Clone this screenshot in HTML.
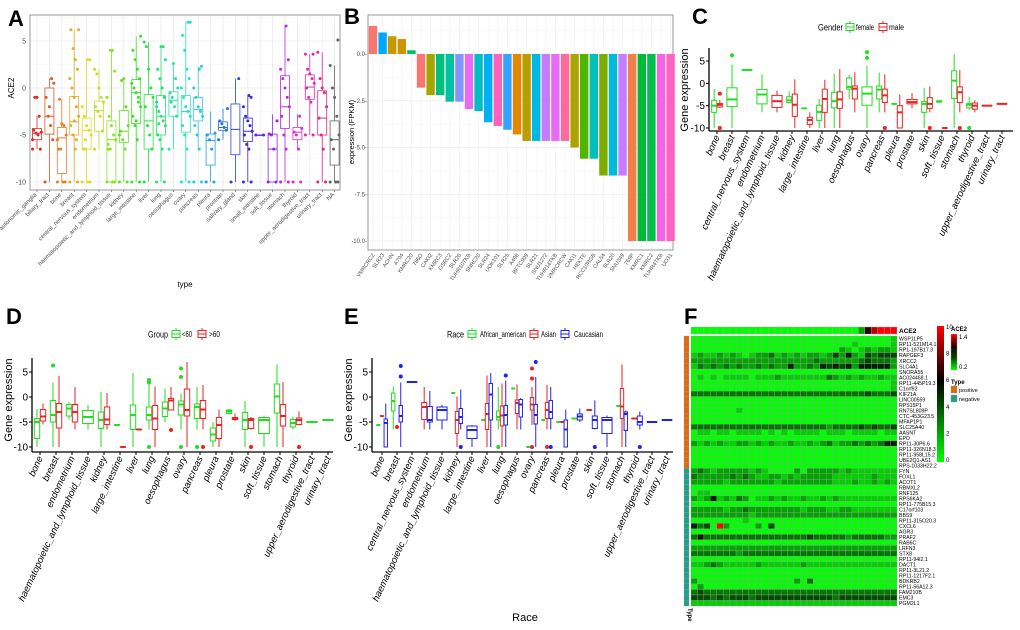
<!DOCTYPE html>
<html><head><meta charset="utf-8"><style>
body{margin:0;background:#fff}
svg{display:block;font-family:"Liberation Sans",sans-serif}
</style></head><body>
<svg id="fig" width="1020" height="630" viewBox="0 0 1020 630"></svg>
<script>
// ---------- DATA ----------
const aCats=["autonomic_ganglia","biliary_tract","bone","breast","central_nervous_system","endometrium","haematopoietic_and_lymphoid_tissue","kidney","large_intestine","liver","lung","oesophagus","ovary","pancreas","pleura","prostate","salivary_gland","skin","small_intestine","soft_tissue","stomach","thyroid","upper_aerodigestive_tract","urinary_tract","NA"];
const aStats=[[-6.5,-5.5,-4.8,-4.3,-3],[-10,-4.9,-3,0,1],[-10,-9.1,-5.3,-4.2,-1.2],[-10,-5,-3.6,-0.9,6.2],[-10,-6.5,-4.5,-3.2,3],[-6.5,-4.6,-2.4,-1.4,2],[-10,-10,-5.5,-3.5,4],[-10,-5.8,-4.6,-2.4,1],[-10,-3.8,-0.5,0.9,5.5],[-10,-6.5,-3.5,-0.7,4.9],[-10,-5,-3,-0.8,4.4],[-6.5,-3,-1.3,-0.4,2.6],[-10,-4.7,-2.5,-0.8,7],[-6.5,-3.5,-2.3,-1,2.3],[-10,-8.2,-5.6,-4.9,-2.5],[-5.5,-4.5,-4.2,-3.6,-2.2],[-10,-7.1,-4.4,-1.7,1],[-10,-5.7,-4.6,-3.2,-0.8],[-5,-5,-5,-5,-5],[-10,-10,-6.5,-4.9,-2.8],[-10,-4.3,-2,1.3,6.6],[-6.5,-5.5,-4.7,-4.2,-2.8],[-5,-1.2,0.1,1.4,3.6],[-10,-5,-3.2,-0.3,3.8],[-10,-8.2,-5.5,-3.5,2.4]];
const aPoints=[[-6.5,-6.5,-5,-4.8,-4.5,-4.7,-3,-1,-1,-5.5],[-10,-5.5,-4,-3,-1,0.5,1,-2],[-10,-10,-10,-6.5,-6.5,-5,-4,-3.8,-1.2,-5.5],[-10,-10,-6.5,-5,-4,-3,-2,-1,0,1,2,3,4.2,6.2,6.2,-5.5,-3.5],[-10,-10,-10,-6.5,-6.5,-5,-4.5,-4,-3,-2,3,3,-5.5],[-6.5,-4.6,-3,-2.5,-2,-1.5,-1,0,1.5,2],[-10,-10,-10,-6.5,-6.5,-5.5,-5,-4,-3,-1,1.8,4,4,-6],[-10,-10,-6.5,-5.5,-4.6,-4,-2,1,0.8,-5],[-10,-10,-5.5,-4,-3,-2,-1,-0.5,0,0.5,1,2,3,4,5.5,-1.5,-3.5],[-10,-6.5,-5,-4,-2,-1,0,2,4.4,4.9],[-10,-10,-6.5,-5.5,-5,-4,-3.5,-3,-2.5,-2,-1,0,1,2,3,4.4,4.4,-3.8,-1.5],[-6.5,-3,-2,-1,-0.5,0,1,2.6,-1.5],[-10,-10,-6.5,-5,-4,-3,-2.5,-2,-1,0,1,2,4,5.6,7,7],[-10,-10,-6.5,-5,-4,-3,-2.5,-2,-1,0,2.3,2],[-10,-10,-6.5,-5.5,-5,-4.8],[-5.5,-4.5,-4.2,-3.8,-3.5,-2.2],[-10,1],[-10,-10,-6.5,-6,-5,-4.6,-4,-3.5,-3,-2,-1,-0.8],[-5,-5],[-10,-10,-6.5,-5,-4.9,-3.5],[-10,-10,-6.5,-5,-3,-2,-1,0,1,2,3,6.6],[-10,-10,-6.5,-5,-4.7,-4.3,-3],[-5,-5,-1.5,-1,0,0.5,1,1.5,2,3.6,3.6],[-10,-10,-6.5,-5,-3.2,-2,-0.5,0,1,3.8],[-10,-10,-10,-6.5,-5.5,-5,-3,-1,0,2.4,5.1]];
const aTicks=[5,0,-5,-10];

const bNames=["VMRCRCZ","SLR23","ACHN","A704","KMRC20","786O","CAKI2","KMRC3","OSRC2","SLR26","TUHR10TKB","SNRC20","SLR24","UOK101","SLR25","A498","BFTC909","SLR21","SNU1272","TUHR14TKB","VMRCRCW","CAKI1","HEKTE","RCC10RGB","CAL54","SLR20","SNU349","769P","KMRC1","KMRC2","TUHR4TKB","UO31"];
const bValues=[1.5,1.15,0.95,0.8,0.2,-1.8,-2.2,-2.2,-2.55,-2.55,-2.95,-3.05,-3.65,-3.85,-4.05,-4.3,-4.65,-4.65,-4.65,-4.65,-4.65,-5.0,-5.6,-5.6,-6.5,-6.5,-6.5,-10,-10,-10,-10,-10];
const bColors=["#f8766d","#00a9ff","#c49a00","#cd9600","#00be67","#f8766d","#a3a500","#00bf7d","#00c1a3","#8494ff","#e76bf3","#00bfc4","#00b0f6","#ff62bc","#35a2ff","#e58700","#b79f00","#00b8e7","#c77cff","#e76bf3","#ff6a98","#aba300","#53b400","#00c0b8","#7cae00","#00bcd8","#c77cff","#f07f4a","#00ba38","#00c04b","#f564e3","#ff61c3"];
const bTicks=[0,-2.5,-5,-7.5,-10];
const bTickLabels=["0.0-","-2.5-","-5.0-","-7.5-","-10.0-"];

const cCats=["bone","breast","central_nervous_system","endometrium","haematopoietic_and_lymphoid_tissue","kidney","large_intestine","liver","lung","oesophagus","ovary","pancreas","pleura","prostate","skin","soft_tissue","stomach","thyroid","upper_aerodigestive_tract","urinary_tract"];
const cBoxes=[
[[0,-10,-6.5,-5,-3.8,-1.2],[1,-5.5,-5.3,-4.8,-4.5,-3.7,[-2.3,-10]]],
[[0,-10,-5.2,-3.6,-1,4.2,[6.3]]],
[[0,3,3,3,3,3]],
[[0,-6.5,-4.6,-2.5,-1.4,2]],
[[1,-6.5,-5.4,-4,-2.7,-1.6]],
[[0,-4.5,-4.3,-3.8,-3,-1.8],[1,-10,-7.4,-4.8,-2.4,0.9]],
[[0,-5.6,-5.6,-5.6,-5.6,-5.6],[1,-10,-9.2,-8.2,-7.6,-6.5]],
[[0,-10,-8.3,-6.4,-4.9,-3.5],[1,-10,-6.5,-3.5,-1.3,0.8]],
[[0,-10,-5.5,-4,-2,2.1],[1,-10,-5.6,-3.6,-1.9,3.2]],
[[0,-3.6,-1.3,-0.8,1.2,1.9],[1,-6.5,-3.5,-1.2,-0.6,2.5]],
[[0,-10,-4.9,-2.3,-0.8,4,[5.7,7]]],
[[0,-6.5,-3.5,-1.4,-0.6,2.4],[1,-6.5,-4.3,-2.7,-1.3,2,[-10]]],
[[0,-4.6,-4.6,-4.6,-4.6,-4.6],[1,-10,-10,-6.5,-5,-2.5]],
[[1,-5.6,-4.6,-4.2,-3.6,-2.2]],
[[0,-10,-6.5,-4.6,-4.1,-1],[1,-6.5,-5.6,-4.6,-3.2,-0.7,[-10]]],
[[0,-4.3,-4.2,-4.1,-3.9,-3.8],[1,-10,-10,-10,-10,-10]],
[[0,-10,-3.4,0.6,2.8,6.5],[1,-6.5,-4.3,-2,-0.8,3,[-10]]],
[[0,-6,-5.5,-4.8,-4.5,-3,[-10]],[1,-6.5,-5.8,-5,-4.4,-3.8]],
[[1,-5,-5,-5,-5,-5]],
[[1,-4.6,-4.6,-4.6,-4.6,-4.6]]];

const dCats=["bone","breast","endometrium","haematopoietic_and_lymphoid_tissue","kidney","large_intestine","liver","lung","oesophagus","ovary","pancreas","pleura","prostate","skin","soft_tissue","stomach","thyroid","upper_aerodigestive_tract","urinary_tract"];
const dBoxes=[
[[0,-10,-8.3,-5,-4.3,-2.4],[1,-5.5,-4.8,-3.9,-2.5,-1.3]],
[[0,-10,-5,-3.6,-0.7,2.9,[6.3]],[1,-10,-6.2,-3,-1.3,4.2]],
[[0,-4.5,-3.8,-2.3,-1.5,-1],[1,-6.5,-5,-3,-1.5,2]],
[[0,-6.5,-5.3,-4,-2.7,-1.6]],
[[0,-10,-6.3,-4.6,-3,1],[1,-6.5,-5.5,-4.5,-2,0.8]],
[[0,-5.6,-5.6,-5.6,-5.6,-5.6],[1,-10,-10,-10,-10,-10]],
[[0,-10,-6.5,-3.6,-1.6,4.8],[1,-6.5,-6.5,-6.5,-6.5,-6.5]],
[[0,-6.5,-4.6,-3.6,-2,2.5,[2.9,3.4,-10]],[1,-10,-6.5,-4.3,-1.7,2.1]],
[[0,-5,-3.9,-2.3,-1,1.7],[1,-2.7,-2.6,-0.7,-0.3,2,[-6.6]]],
[[0,-6.5,-3.6,-1.5,-0.8,0.7,[4,5.7,-10]],[1,-10,-3.8,-2.6,1.6,7]],
[[0,-6.5,-4.3,-2,-1.4,2,[-10]],[1,-6.5,-4.3,-2.5,-0.7,2.4,[-10]]],
[[0,-10,-8.8,-7.5,-6.2,-5],[1,-10,-8.3,-5.6,-4.1,-2.5]],
[[0,-3.5,-3.3,-2.9,-2.6,-2.4],[1,-4.8,-4.5,-4.3,-4.1,-3.3]],
[[0,-10,-6.5,-4.6,-3.1,-0.8],[1,-6.5,-6.3,-4.6,-4.3,-4,[-10]]],
[[0,-10,-7.3,-4.6,-4.1,-3.7]],
[[0,-10,-3.2,0.1,2.6,6.5],[1,-10,-5.8,-3.8,-1.5,3]],
[[0,-6.5,-6,-5.2,-4.5,-4],[1,-5.6,-5.5,-4.6,-4.2,-2.9,[-10]]],
[[0,-5,-5,-5,-5,-5]],
[[0,-4.6,-4.6,-4.6,-4.6,-4.6]]];

const eCats=cCats;
const eBoxes=[
[[0,-5.6,-5.6,-5.6,-5.6,-5.6],[1,-3.8,-3.8,-3.8,-3.8,-3.8],[2,-10,-10,-5.2,-4.4,-1.3]],
[[0,-6.5,-2.8,-0.8,0.8,2.1],[1,-6,-6,-6,-6,-6,[-6]],[2,-10,-5,-3.8,-1.7,2.9,[4.1,6.2]]],
[[2,3,3,3,3,3]],
[[1,-6.5,-4.5,-2,-1.1,2],[2,-6.5,-5,-4.6,-1.9,1.2]],
[[2,-6.5,-4.6,-2.6,-2,-1.6]],
[[0,0.8,0.8,0.8,0.8,0.8],[1,-10,-7.3,-4.6,-2.9,0.1],[2,-6.5,-5.3,-4,-2.3,1.5,[-10]]],
[[2,-10,-8.3,-6.6,-5.8,-5.6]],
[[0,-4.6,-4.6,-4.6,-4.6,-4.6],[1,-10,-6.5,-3.4,-1.3,4.3],[2,-10,-4.6,0.5,2.7,4.8]],
[[0,-6.5,-4.6,-4,-2.8,2,[-10]],[1,-10,-5.8,-3.7,-1.8,2.7],[2,-10,-5.6,-3.6,-1.7,3.3,[4.3]]],
[[0,1.7,1.7,1.7,1.7,1.7],[1,-6.5,-3.3,-1.2,-0.6,2.5],[2,-6.5,-4,-1.5,-0.5,-0.2]],
[[0,-10,-10,-10,-10,-10],[1,-5.6,-2.6,-1.5,-0.1,2,[3.7,5.7,-10]],[2,-10,-5.4,-3.6,-1.5,4,[7]]],
[[0,-4.6,-4.6,-4.6,-4.6,-4.6],[1,-6.5,-4.3,-2.6,-1.1,2.4,[-10]],[2,-6.5,-4.3,-3,-0.7,2,[-10]]],
[[0,-5,-5,-5,-5,-5],[1,-5,-5,-5,-5,-5],[2,-10,-10,-6.5,-4.6,-2.5]],
[[0,-4.3,-4.3,-4.3,-4.3,-4.3],[2,-5,-4.6,-3.9,-3.4,-2.3]],
[[1,-2.6,-2.6,-2.6,-2.6,-2.6],[2,-6.5,-6.3,-4.6,-3.8,-0.7,[-10]]],
[[2,-10,-7.3,-4.6,-4.1,-3.7]],
[[0,-1.8,-1.8,-1.8,-1.8,-1.8],[1,-10,-4.3,-1.9,1.7,6.5],[2,-10,-6.7,-3.4,-3,-2.7]],
[[1,-4.3,-4.3,-4.3,-4.3,-4.3],[2,-6.5,-5.6,-5,-3.8,-2.9,[-10]]],
[[2,-5,-5,-5,-5,-5]],
[[2,-4.6,-4.6,-4.6,-4.6,-4.6]]];
const groupTicks=[5,0,-5,-10];

const fGenes=["WSP1LP5","RP11-521M14.1","RP1-197B17.3","RAPGEF3","XRCC2","SLC4A1","SNORA55","AC024468.1","RP11-445P19.3","C1orf92","KIF21A","LINC00559","RPS15P1","RN7SL809P","CTC-453G23.5","MFAP1P1","SLC25A40","AASNT","EPO","RP11-30P6.6","RP11-326N18.3","RP11-958L15.2","UBE2Q1-AS1","RPS-1033H22.2","FYN","FOXL1","ACOT1","RBMXL2","RNF125","RPS6KA2","RP11-775B15.3","C17orf103","BBS9","RP11-315O20.3","CXCL6","AGR3","PRAF2","RAB6C","LRFN3","STX8","RP11-94I2.1","DACT1","RP11-3L21.2","RP11-1217F2.1","BDKRB2","RP11-56A12.3","FAM210B","EMC3","PGM2L1"];
const fPositiveCount=24;
const fAce2="00000000000000000000000000268999";
const fRows=["00000000000000000000000000000001","00000000000000000000000001000001","00000000000000000000000210121221","12112121012231212122124252143444","22222222222222222223222222343332","13232323223232252232545452555552","00000000000000000000000000000000","01010111101112111111132121211211","00000000000000000000000000000001","00000000000000000000000000000001","33333333333333333333333333343334","00000000000000000000000000000000","00000000000000000000000000000000","00000001000000000000000000000000","00000000000000000000000000000000","00000000000000000000000000000000","33333333333333333333323333434334","01101101111010101111011101111011","00000000000000000000000000000000","21212112212121121121231223232355","00000000000000000000000000000000","00000000000000000000000000000000","00000000000000000000000000000000","00000000000000000000000000000000","23212222212100002022222121111111","32222232321122121222221111112111","22222122222221222222221112112121","00000000000000000000000000000000","01100000000000000000000000000000","21251213201121211211212111111111","00000000000000000000000000000000","22222122322222222122211221111111","22222222212222222222222222222222","00000000100000000000000000000000","53409200002040000000000000000000","00000000000000000000000000000000","35333333333333333343333323333322","00000000000000000000000000000000","22222222222222222222222222222222","33333332333333333333333333333333","00000000000000000000000000000000","11232111112111111211111111111111","00000000000000000000000000000000","00000000000000000000000000000000","20000000000000002030000000000000","02000000000000000000000000000000","34333333333333333333333333333333","44434344434444444444443444444444","11111111111111111111111111111111"];
const fScaleLabels=["10","8","6","4","2","0"];

// ---------- HELPERS ----------
const svg=document.getElementById('fig');
const NS='http://www.w3.org/2000/svg';
function mk(tag,attrs,name,parent){
  const e=document.createElementNS(NS,tag);
  for(const k in attrs) e.setAttribute(k,attrs[k]);
  
  
  (parent||svg).appendChild(e);return e;
}
function txt(x,y,s,attrs,name,parent){
  const a=Object.assign({x:x,y:y},attrs||{});
  const e=mk('text',a,name,parent);e.textContent=s;return e;
}
function lin(v,v0,p0,v1,p1){return p0+(v-v0)*(p1-p0)/(v1-v0);}

// Panel letters
[["A",8,26],["B",344,24],["C",692,24],["D",6,324],["E",344,324],["F",684,324]].forEach(p=>{
  txt(p[1],p[2],p[0],{"font-size":22,"font-weight":"bold"},'panel-label-'+p[0].toLowerCase());
});

// ---------- PANEL A ----------
(function(){
  const g=mk('g',{},'panel-a');
  const X0=30,X1=340,Y0=15,Y1=190;
  const y=v=>lin(v,0,88,-10,182);
  const cx=i=>37+i*12.4;
  aTicks.forEach(t=>{
    mk('line',{x1:X0,x2:X1,y1:y(t),y2:y(t),stroke:"#ebebeb","stroke-width":0.8},'grid-line',g);
    mk('line',{x1:X0,x2:X1,y1:y(t+2.5),y2:y(t+2.5),stroke:"#f4f4f4","stroke-width":0.5},'minor-grid',g);
    txt(X0-4,y(t)+2.5,String(t),{"font-size":7,fill:"#4d4d4d","text-anchor":"end"},'y-tick-label',g);
  });
  aCats.forEach((c,i)=>mk('line',{x1:cx(i),x2:cx(i),y1:Y0,y2:Y1,stroke:"#ebebeb","stroke-width":0.8},'grid-line',g));
  mk('rect',{x:X0,y:Y0,width:X1-X0,height:Y1-Y0,fill:"none",stroke:"#999","stroke-width":1},'plot-border',g);
  aCats.forEach((c,i)=>{
    const col=i==24?"#666":`hsl(${(i*14.4)%360},75%,52%)`;
    const s=aStats[i],x=cx(i),w=9;
    mk('line',{x1:x,x2:x,y1:y(s[0]),y2:y(s[4]),stroke:col,"stroke-width":0.8},'whisker',g);
    mk('rect',{x:x-w/2,y:y(s[3]),width:w,height:Math.max(0.5,y(s[1])-y(s[3])),fill:"#fff",stroke:col,"stroke-width":0.8},'box-'+c,g);
    mk('line',{x1:x-w/2,x2:x+w/2,y1:y(s[2]),y2:y(s[2]),stroke:col,"stroke-width":1},'median',g);
    aPoints[i].forEach((v,j)=>{
      const dx=(((j*7)%9)-4)*1.1;
      mk('circle',{cx:x+dx,cy:y(v),r:1.5,fill:col},'point',g);
    });
    const tx=cx(i),ty=Y1+5;
    txt(tx,ty,c,{"font-size":6,fill:"#4d4d4d","text-anchor":"end",transform:`rotate(-45 ${tx} ${ty})`},'x-tick-label',g);
    mk('line',{x1:tx,x2:tx,y1:Y1,y2:Y1+2,stroke:"#333","stroke-width":0.5},'x-tick',g);
  });
  txt(185,287,"type",{"font-size":8,"text-anchor":"middle"},'x-axis-title',g);
  txt(14,88,"ACE2",{"font-size":8,"text-anchor":"middle",transform:"rotate(-90 14 88)"},'y-axis-title',g);
})();

// ---------- PANEL B ----------
(function(){
  const g=mk('g',{},'panel-b');
  const X0=368,X1=673,Y0=15,Y1=250;
  const y=v=>lin(v,0,54,-10,241);
  const cx=i=>373+i*9.6;
  bTicks.forEach((t,k)=>{
    mk('line',{x1:X0,x2:X1,y1:y(t),y2:y(t),stroke:"#ebebeb","stroke-width":0.8},'grid-line',g);
    mk('line',{x1:X0,x2:X1,y1:y(t-1.25),y2:y(t-1.25),stroke:"#f4f4f4","stroke-width":0.5},'minor-grid',g);
    txt(X0-1,y(t)+2,bTickLabels[k],{"font-size":6,fill:"#4d4d4d","text-anchor":"end"},'y-tick-label',g);
  });
  mk('line',{x1:X0,x2:X1,y1:y(1.25),y2:y(1.25),stroke:"#f4f4f4","stroke-width":0.5},'minor-grid',g);
  bNames.forEach((n,i)=>mk('line',{x1:cx(i),x2:cx(i),y1:Y0,y2:Y1,stroke:"#f0f0f0","stroke-width":0.6},'grid-line',g));
  mk('rect',{x:X0,y:Y0,width:X1-X0,height:Y1-Y0,fill:"none",stroke:"#999","stroke-width":1},'plot-border',g);
  bNames.forEach((n,i)=>{
    const v=bValues[i],top=Math.min(y(v),y(0)),h=Math.abs(y(v)-y(0));
    mk('rect',{x:cx(i)-4.2,y:top,width:8.4,height:h,fill:bColors[i]},'bar-'+n.toLowerCase(),g);
    const tx=cx(i)+2,ty=Y1+5;
    txt(tx,ty,n,{"font-size":5.5,fill:"#4d4d4d","text-anchor":"end",transform:`rotate(-55 ${tx} ${ty})`},'x-tick-label',g);
  });
  txt(354,132,"expression (FPKM)",{"font-size":7.5,"text-anchor":"middle",transform:"rotate(-90 354 132)"},'y-axis-title',g);
})();

// ---------- GROUPED BOX PANELS ----------
function grouped(cfg){
  const g=mk('g',{},cfg.name);
  const y=v=>lin(v,5,cfg.y5,-10,cfg.y10);
  const cx=i=>cfg.cx0+i*cfg.step;
  mk('line',{x1:cfg.x0,x2:cfg.x0,y1:cfg.top,y2:cfg.bottom,stroke:"#000","stroke-width":1.3},'y-axis-line',g);
  mk('line',{x1:cfg.x0,x2:cfg.x1,y1:cfg.bottom,y2:cfg.bottom,stroke:"#000","stroke-width":1.3},'x-axis-line',g);
  groupTicks.forEach(t=>{
    mk('line',{x1:cfg.x0-3,x2:cfg.x0,y1:y(t),y2:y(t),stroke:"#000"},'y-tick',g);
    txt(cfg.x0-4,y(t)+3.5,String(t),{"font-size":10,"text-anchor":"end"},'y-tick-label',g);
  });
  const dw=cfg.step*0.75;
  cfg.cats.forEach((c,i)=>{
    const x=cx(i);
    mk('line',{x1:x,x2:x,y1:cfg.bottom,y2:cfg.bottom+3,stroke:"#000"},'x-tick',g);
    const ty=cfg.bottom+6;
    txt(x+3,ty,c,{"font-size":9.5,"font-style":"italic","text-anchor":"end",transform:`rotate(-65 ${x+3} ${ty})`},'x-tick-label',g);
    const ents=cfg.boxes[i],n=ents.length,sw=dw/n;
    ents.forEach((e,k)=>{
      const col=cfg.colors[e[0]],bx=x-dw/2+k*sw+sw*0.05,w=sw*0.9,mx=bx+w/2;
      mk('line',{x1:mx,x2:mx,y1:y(e[1]),y2:y(e[5]),stroke:col,"stroke-width":1},'whisker',g);
      mk('rect',{x:bx,y:y(e[4]),width:w,height:Math.max(0.01,y(e[2])-y(e[4])),fill:"#fff",stroke:col,"stroke-width":1},'box-'+c,g);
      mk('line',{x1:bx,x2:bx+w,y1:y(e[3]),y2:y(e[3]),stroke:col,"stroke-width":2},'median',g);
      (e[6]||[]).forEach(o=>mk('circle',{cx:mx,cy:y(o),r:2,fill:col},'outlier',g));
    });
  });
  txt(cfg.ytx,cfg.yty,"Gene expression",{"font-size":11,"text-anchor":"middle",transform:`rotate(-90 ${cfg.ytx} ${cfg.yty})`},'y-axis-title',g);
  // legend
  txt(cfg.leg.x,cfg.leg.y+3.5,cfg.leg.title,{"font-size":9,textLength:cfg.leg.tw,lengthAdjust:"spacingAndGlyphs"},'legend-title',g);
  cfg.leg.items.forEach((it,k)=>{
    const lg=mk('g',{},'legend-entry',g);
    const kx=it[0],col=cfg.colors[k],cy=cfg.leg.y;
    mk('line',{x1:kx+4,x2:kx+4,y1:cy-6,y2:cy+6,stroke:col},'legend-whisker',lg);
    mk('rect',{x:kx,y:cy-3.5,width:8,height:7,fill:"#fff",stroke:col},'legend-key',lg);
    mk('line',{x1:kx,x2:kx+8,y1:cy,y2:cy,stroke:col},'legend-median',lg);
    txt(it[2],cy+3,it[1],{"font-size":8,textLength:it[3],lengthAdjust:"spacingAndGlyphs"},'legend-label',lg);
  });
  return g;
}
grouped({name:'panel-c',x0:709,x1:1013,top:48,bottom:131,y5:61,y10:128,cx0:717,step:15,cats:cCats,boxes:cBoxes,colors:["#22dd22","#ee2222"],ytx:688,yty:90,
  leg:{x:818,y:27,title:"Gender",tw:25,items:[[846,"female",856,18],[879,"male",889,15]]}});
grouped({name:'panel-d',x0:32,x1:333,top:358,bottom:452,y5:372,y10:447,cx0:40,step:16,cats:dCats,boxes:dBoxes,colors:["#22dd22","#ee2222"],ytx:12,yty:400,
  leg:{x:148,y:334,title:"Group",tw:20,items:[[172,"<60",182,10],[198,">60",209,11]]}});
const eg=grouped({name:'panel-e',x0:372,x1:673,top:358,bottom:452,y5:372,y10:447,cx0:382,step:15,cats:eCats,boxes:eBoxes,colors:["#22dd22","#ee2222","#2222ee"],ytx:352,yty:400,
  leg:{x:447,y:334,title:"Race",tw:17,items:[[468,"African_american",480,46],[530,"Asian",541,15],[561,"Caucasian",574,29]]}});
txt(525,621,"Race",{"font-size":11,"text-anchor":"middle"},'x-axis-title',eg);

// ---------- PANEL F ----------
(function(){
  const g=mk('g',{},'panel-f');
  const X0=691,X1=897,Y0=336,Y1=606,ncol=32,nrow=fRows.length;
  const cw=(X1-X0)/ncol,rh=(Y1-Y0)/nrow;
  function col(d){
    const v=+d*10/9;
    if(v<=6){return `rgb(0,${Math.round(255*(1-v/6.3))},0)`;}
    return `rgb(${Math.round(255*(v-6)/4)},0,0)`;
  }
  for(let j=0;j<ncol;j++){
    mk('rect',{x:X0+j*cw,y:327,width:cw,height:7,fill:col(fAce2[j]),stroke:"#aaa","stroke-width":0.4},'ace2-cell',g);
  }
  txt(899,333,"ACE2",{"font-size":6.5,"font-weight":"bold"},'ace2-row-label',g);
  fRows.forEach((r,i)=>{
    for(let j=0;j<ncol;j++){
      mk('rect',{x:X0+j*cw,y:Y0+i*rh,width:cw,height:rh,fill:col(r[j]||'0'),stroke:"#999","stroke-width":0.4},'heatmap-cell',g);
    }
    mk('rect',{x:684,y:Y0+i*rh,width:5,height:rh,fill:i<fPositiveCount?"#e06a10":"#1fa08a",stroke:"#999","stroke-width":0.3},'type-cell',g);
    txt(899,Y0+i*rh+rh-0.8,fGenes[i],{"font-size":5.2},'gene-label',g);
  });
  txt(688,608,"Type",{"font-size":6,"font-weight":"bold",transform:"rotate(90 688 608)"},'type-axis-label',g);
  const defs=mk('defs',{},'defs',g);
  const lgd=mk('linearGradient',{id:"hm",x1:0,y1:1,x2:0,y2:0},'gradient',defs);
  [["0","#00ff00"],["0.6","#000000"],["1","#ff0000"]].forEach(s=>mk('stop',{offset:s[0],"stop-color":s[1]},'gradient-stop',lgd));
  mk('rect',{x:937,y:326,width:7,height:136,fill:"url(#hm)"},'color-scale-bar',g);
  fScaleLabels.forEach((l,k)=>txt(946,329+k*26.6,l,{"font-size":6},'color-scale-label',g));
  txt(951,331,"ACE2",{"font-size":6,"font-weight":"bold"},'ace2-legend-title',g);
  const lg2=mk('linearGradient',{id:"ac",x1:0,y1:1,x2:0,y2:0},'gradient',defs);
  [["0","#00ff00"],["0.35","#004400"],["0.65","#220000"],["1","#ff0000"]].forEach(s=>mk('stop',{offset:s[0],"stop-color":s[1]},'gradient-stop',lg2));
  mk('rect',{x:951,y:334,width:6,height:36,fill:"url(#ac)",stroke:"#999","stroke-width":0.4},'ace2-legend-bar',g);
  txt(959,339,"1.4",{"font-size":6},'ace2-legend-label',g);
  txt(959,369,"0.2",{"font-size":6},'ace2-legend-label',g);
  txt(951,384,"Type",{"font-size":6,"font-weight":"bold"},'type-legend-title',g);
  mk('rect',{x:951,y:386,width:6,height:7,fill:"#e06a10",stroke:"#999","stroke-width":0.4},'legend-positive-key',g);
  txt(959,392,"positive",{"font-size":5.5},'legend-positive-label',g);
  mk('rect',{x:951,y:395,width:6,height:7,fill:"#1fa08a",stroke:"#999","stroke-width":0.4},'legend-negative-key',g);
  txt(959,401,"negative",{"font-size":5.5},'legend-negative-label',g);
})();
</script>
</body></html>
